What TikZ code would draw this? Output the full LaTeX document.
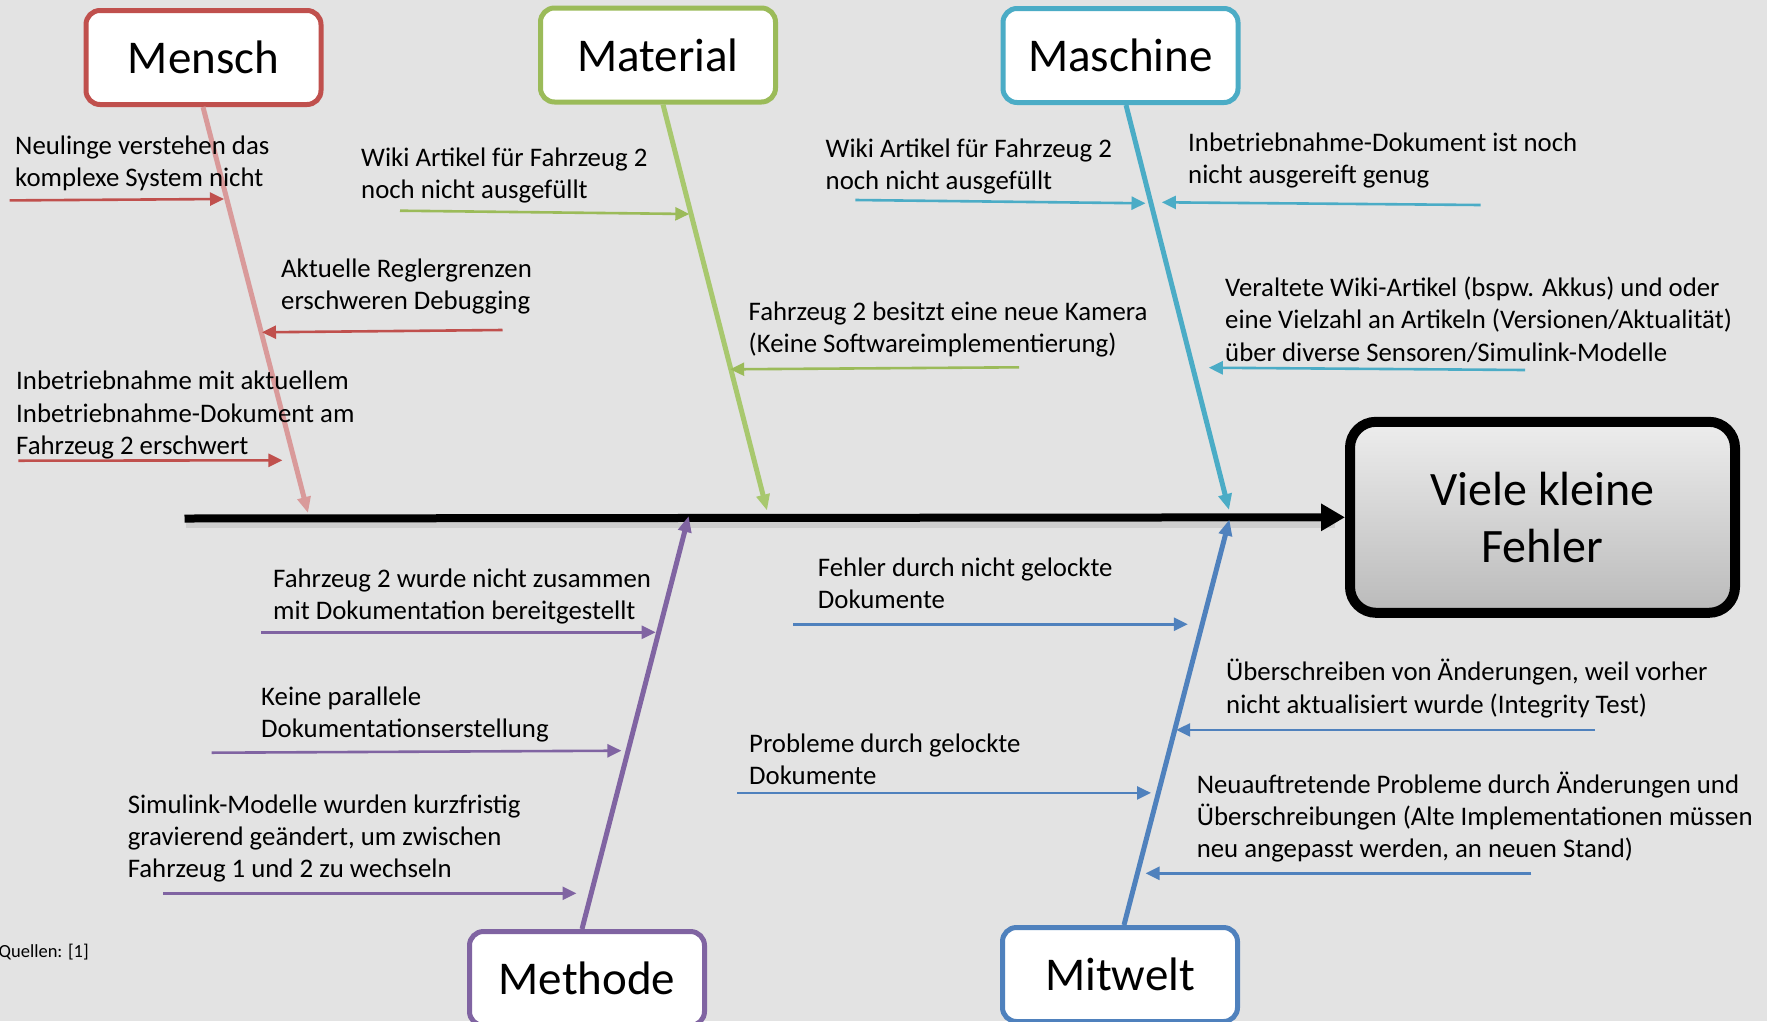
\documentclass[tikz,border=0pt]{standalone}
\usepackage{fontspec}
\setmainfont{Carlito}
\usetikzlibrary{arrows.meta,shadows}
\definecolor{bg}{HTML}{E3E3E3}
\definecolor{cred}{HTML}{C0504D}
\definecolor{credl}{HTML}{D99A9A}
\definecolor{cgreen}{HTML}{9BBB59}
\definecolor{cgreenl}{HTML}{A8C86E}
\definecolor{caqua}{HTML}{4BACC6}
\definecolor{cpurple}{HTML}{8064A2}
\definecolor{cblue}{HTML}{4F81BD}
\begin{document}
\begin{tikzpicture}[x=1pt,y=-1pt,
  cat/.style={draw=#1, line width=5pt, fill=white, rounded corners=14pt,
    minimum width=235pt, minimum height=94pt, inner sep=0pt,
    font=\fontsize{47}{56}\selectfont},
  lbl/.style={anchor=west, align=left, inner sep=0pt, yshift=-1.5pt,
    font=\fontsize{26.8}{32.3}\selectfont},
  bone/.style={draw=#1, line width=5pt, -{Triangle[length=16pt,width=13pt]}},
  subarrow/.style={draw=#1, line width=2.6pt, -{Triangle[length=14pt,width=13pt]}},
  effektbox/.style={draw=black, line width=10pt, rounded corners=26pt,
    top color=black!7, bottom color=black!27,
    minimum width=385pt, minimum height=191pt, inner sep=0pt, align=center,
    font=\fontsize{48}{57.5}\selectfont,
    drop shadow={shadow xshift=3pt, shadow yshift=-4pt, opacity=.3, fill=black!70}}
]
\useasboundingbox[fill=bg] (0,0) rectangle (1767,1021);

% effect box
\node[effektbox] (effekt) at (1542.5,517.3) {Viele kleine\\Fehler};

% spine
\coordinate (spstart) at (184.5,518.5);
\draw[line width=6pt, black, opacity=.09] (186,525) -- (1335,525);
\draw[line width=8pt, -{Triangle[length=24pt,width=26pt]}] (spstart) -- (effekt.west);

% category boxes
\node[cat=cred]    (mensch)   at (203.5,57.5) {Mensch};
\node[cat=cgreen]  (material) at (658,55)     {Material};
\node[cat=caqua]   (maschine) at (1120.5,55.5){Maschine};
\node[cat=cpurple] (methode)  at (587,978.5)  {Methode};
\node[cat=cblue]   (mitwelt)  at (1120,974.5) {Mitwelt};

% bone tips
\coordinate (tmensch)   at (308,513);
\coordinate (tmaterial) at (767,510.5);
\coordinate (tmaschine) at (1229,510);
\coordinate (tmethode)  at (688.7,516);
\coordinate (tmitwelt)  at (1229.4,519.5);

\draw[bone=credl]   ([xshift=-0.5pt]mensch.south) -- (tmensch);
\draw[bone=cgreenl] ([xshift=5pt]material.south) -- (tmaterial);
\draw[bone=caqua]   ([xshift=5.5pt]maschine.south) -- (tmaschine);
\draw[bone=cpurple] ([xshift=-5pt]methode.north) -- (tmethode);
\draw[bone=cblue]   ([xshift=4pt]mitwelt.north) -- (tmitwelt);

% Mensch
\node[lbl] (l1) at (15,161.8) {Neulinge verstehen das\\komplexe System nicht};
\coordinate (a1s) at (9.6,200.4); \coordinate (a1e) at (224,199);
\draw[subarrow=cred] (a1s) -- (a1e);
\node[lbl] (l2) at (281,285) {Aktuelle Reglergrenzen\\erschweren Debugging};
\coordinate (a2s) at (502.5,330); \coordinate (a2e) at (262,332.3);
\draw[subarrow=cred] (a2s) -- (a2e);
\node[lbl] (l3) at (16,413.5) {Inbetriebnahme mit aktuellem\\Inbetriebnahme-Dokument am\\Fahrzeug 2 erschwert};
\coordinate (a3s) at (18.4,460.7); \coordinate (a3e) at (282.4,460.3);
\draw[subarrow=cred] (a3s) -- (a3e);

% Material
\node[lbl] (l4) at (361,174.2) {Wiki Artikel für Fahrzeug 2\\noch nicht ausgefüllt};
\coordinate (a4s) at (400,210.7); \coordinate (a4e) at (689.3,214);
\draw[subarrow=cgreen] (a4s) -- (a4e);
\node[lbl] (l5) at (748.5,327.9) {Fahrzeug 2 besitzt eine neue Kamera\\(Keine Softwareimplementierung)};
\coordinate (a5s) at (1019,367.3); \coordinate (a5e) at (730.2,369.3);
\draw[subarrow=cgreen] (a5s) -- (a5e);

% Maschine
\node[lbl] (l6) at (825.5,165) {Wiki Artikel für Fahrzeug 2\\noch nicht ausgefüllt};
\coordinate (a6s) at (855.3,200); \coordinate (a6e) at (1145.5,203.3);
\draw[subarrow=caqua] (a6s) -- (a6e);
\node[lbl] (l7) at (1188,158.8) {Inbetriebnahme-Dokument ist noch\\nicht ausgereift genug};
\coordinate (a7s) at (1480.5,205); \coordinate (a7e) at (1161.9,202.3);
\draw[subarrow=caqua] (a7s) -- (a7e);
\node[lbl] (l8) at (1225,318) {Veraltete Wiki-Artikel (bspw. Akkus) und oder\\eine Vielzahl an Artikeln (Versionen/Aktualität)\\über diverse Sensoren/Simulink-Modelle};
\coordinate (a8s) at (1525,370); \coordinate (a8e) at (1208.8,367.7);
\draw[subarrow=caqua] (a8s) -- (a8e);

% Methode
\node[lbl] (l9) at (273,595) {Fahrzeug 2 wurde nicht zusammen\\mit Dokumentation bereitgestellt};
\coordinate (a9s) at (261.2,632.3); \coordinate (a9e) at (655.6,632.3);
\draw[subarrow=cpurple] (a9s) -- (a9e);
\node[lbl] (l10) at (261,713.3) {Keine parallele\\Dokumentationserstellung};
\coordinate (a10s) at (211.7,752.7); \coordinate (a10e) at (621.4,750.7);
\draw[subarrow=cpurple] (a10s) -- (a10e);
\node[lbl] (l11) at (127.6,836.8) {Simulink-Modelle wurden kurzfristig\\gravierend geändert, um zwischen\\Fahrzeug 1 und 2 zu wechseln};
\coordinate (a11s) at (163.3,893.3); \coordinate (a11e) at (576.5,893.3);
\draw[subarrow=cpurple] (a11s) -- (a11e);

% Mitwelt
\node[lbl] (l12) at (817.7,581.7) {Fehler durch nicht gelockte\\Dokumente};
\coordinate (a12s) at (793.2,624.2); \coordinate (a12e) at (1187.8,624.2);
\draw[subarrow=cblue] (a12s) -- (a12e);
\node[lbl] (l13) at (1226,687) {Überschreiben von Änderungen, weil vorher\\nicht aktualisiert wurde (Integrity Test)};
\coordinate (a13s) at (1595.2,729.9); \coordinate (a13e) at (1176.2,729.9);
\draw[subarrow=cblue] (a13s) -- (a13e);
\node[lbl] (l14) at (749,757.5) {Probleme durch gelockte\\Dokumente};
\coordinate (a14s) at (737.4,792.9); \coordinate (a14e) at (1151,792.9);
\draw[subarrow=cblue] (a14s) -- (a14e);
\node[lbl] (l15) at (1196.6,815.5) {Neuauftretende Probleme durch Änderungen und\\Überschreibungen (Alte Implementationen müssen\\neu angepasst werden, an neuen Stand)};
\coordinate (a15s) at (1531.3,873.3); \coordinate (a15e) at (1145.6,873.3);
\draw[subarrow=cblue] (a15s) -- (a15e);

% source
\node[anchor=west, inner sep=0pt, font=\fontsize{18.5}{22}\selectfont] (quellen) at (-1.5,952.5) {Quellen: [1]};
\end{tikzpicture}
\end{document}
